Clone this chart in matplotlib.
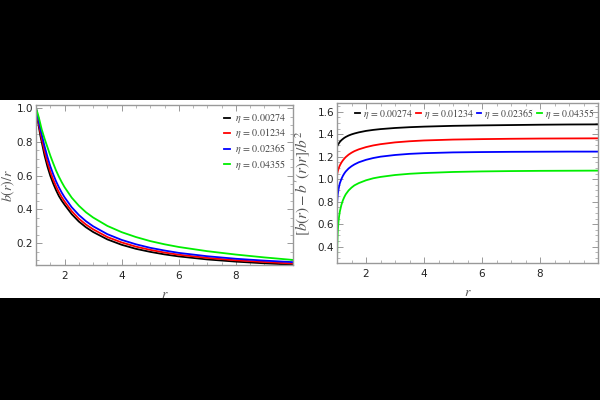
import matplotlib
matplotlib.use("Agg")
import matplotlib.pyplot as plt
from matplotlib.patches import Rectangle
from matplotlib.ticker import MultipleLocator, FixedLocator

plt.rcParams['mathtext.fontset'] = 'stix'
plt.rcParams['font.family'] = ['DejaVu Sans']

# ---------------- data ----------------
etas = ["0.00274", "0.01234", "0.02365", "0.04355"]
colors = ["black", "red", "blue", "#00ee00"]
x_ticks = [2, 4, 6, 8]

r_left = [1.0, 1.05, 1.1, 1.15, 1.2, 1.3, 1.4, 1.5, 1.6, 1.7, 1.8, 1.9, 2.0, 2.25, 2.5, 2.75,
          3.0, 3.5, 4.0, 4.5, 5.0, 5.5, 6.0, 7.0, 8.0, 9.0, 10.0]
b_over_r_1 = [1.0, 0.94, 0.89, 0.84, 0.80, 0.72, 0.655, 0.60, 0.555, 0.515, 0.48, 0.452, 0.428,
              0.372, 0.328, 0.294, 0.266, 0.222, 0.19, 0.166, 0.148, 0.133, 0.121, 0.103, 0.09, 0.08, 0.072]
b_over_r_2 = [1.0, 0.95, 0.905, 0.86, 0.82, 0.745, 0.68, 0.625, 0.578, 0.538, 0.503, 0.473, 0.447,
              0.39, 0.345, 0.31, 0.282, 0.236, 0.204, 0.179, 0.16, 0.144, 0.131, 0.112, 0.098, 0.088, 0.079]
b_over_r_3 = [1.0, 0.96, 0.92, 0.88, 0.845, 0.775, 0.712, 0.657, 0.61, 0.568, 0.532, 0.50, 0.472,
              0.413, 0.367, 0.33, 0.30, 0.253, 0.219, 0.193, 0.172, 0.156, 0.142, 0.122, 0.107, 0.096, 0.087]
b_over_r_4 = [1.0, 0.975, 0.945, 0.91, 0.875, 0.82, 0.77, 0.72, 0.675, 0.632, 0.595, 0.562, 0.532,
              0.47, 0.422, 0.383, 0.352, 0.302, 0.265, 0.236, 0.212, 0.193, 0.177, 0.152, 0.132, 0.115, 0.100]

r_right = [1.0, 1.01, 1.02, 1.03, 1.05, 1.075, 1.1, 1.15, 1.2, 1.25, 1.3, 1.4, 1.5, 1.6, 1.75,
           2.0, 2.25, 2.5, 3.0, 3.5, 4.0, 5.0, 6.0, 7.0, 8.0, 9.0, 10.0]
flare_1 = [1.289, 1.294, 1.299, 1.304, 1.313, 1.323, 1.332, 1.346, 1.357, 1.367, 1.375, 1.388, 1.398,
           1.406, 1.416, 1.429, 1.438, 1.445, 1.455, 1.462, 1.467, 1.474, 1.478, 1.481, 1.484, 1.486, 1.487]
flare_2 = [1.037, 1.05, 1.062, 1.073, 1.09, 1.108, 1.123, 1.147, 1.166, 1.182, 1.196, 1.218, 1.235,
           1.249, 1.265, 1.285, 1.30, 1.311, 1.327, 1.337, 1.344, 1.352, 1.356, 1.359, 1.361, 1.362, 1.363]
flare_3 = [0.78, 0.815, 0.845, 0.87, 0.905, 0.94, 0.965, 1.0, 1.028, 1.05, 1.068, 1.095, 1.115,
           1.131, 1.15, 1.172, 1.188, 1.20, 1.215, 1.225, 1.231, 1.238, 1.241, 1.243, 1.244, 1.245, 1.245]
flare_4 = [0.25, 0.42, 0.50, 0.55, 0.62, 0.675, 0.715, 0.77, 0.81, 0.84, 0.865, 0.90, 0.925,
           0.945, 0.965, 0.99, 1.008, 1.02, 1.037, 1.048, 1.055, 1.064, 1.069, 1.072, 1.074, 1.075, 1.076]

left_series = [b_over_r_1, b_over_r_2, b_over_r_3, b_over_r_4]
right_series = [flare_1, flare_2, flare_3, flare_4]

# ---------------- figure ----------------
W, H = 600, 400
fig = plt.figure(figsize=(6, 4), dpi=100, facecolor="black")
bg = Rectangle((0, 1 - 298 / H), 1, 198 / H, transform=fig.transFigure,
               facecolor="white", edgecolor="none", zorder=-10)
fig.patches.append(bg)

def px_axes(x0, y0, x1, y1):
    return fig.add_axes([x0 / W, 1 - y1 / H, (x1 - x0) / W, (y1 - y0) / H])

ax1 = px_axes(36, 105, 293, 265)
ax2 = px_axes(337, 103, 598, 263)

def style(ax):
    ax.set_facecolor("white")
    for s in ax.spines.values():
        s.set_color("#999999")
        s.set_linewidth(1.0)
    ax.tick_params(which="both", direction="in", top=True, right=True,
                   colors="#999999", labelcolor="#222222", labelsize=7.5)
    ax.tick_params(which="major", length=4, width=0.7)
    ax.tick_params(which="minor", length=2, width=0.5)
    ax.tick_params(axis="y", pad=2)
    ax.tick_params(axis="x", pad=4)
    ax.xaxis.set_major_locator(FixedLocator(x_ticks))
    ax.xaxis.set_minor_locator(MultipleLocator(0.5))
    ax.yaxis.set_major_locator(MultipleLocator(0.2))
    ax.yaxis.set_minor_locator(MultipleLocator(0.05))

for ax in (ax1, ax2):
    style(ax)

for ys, c, e in zip(left_series, colors, etas):
    ax1.plot(r_left, ys, color=c, lw=1.3, label=r"$\eta\,=\,%s$" % e)
ax1.set_xlim(1, 10)
ax1.set_ylim(0.07, 1.02)
ax1.set_xlabel(r"$r$", fontsize=10, color="#555555", labelpad=5)
ax1.set_ylabel(r"$b(r)/r$", fontsize=10, color="#555555")
ax1.yaxis.set_label_coords((17 - 36) / 257, 0.5)
ax1.legend(loc="upper right", frameon=False, fontsize=7.2, handlelength=0.6,
           handletextpad=0.5, labelspacing=0.15, borderaxespad=0.3,
           labelcolor="#444444")

for ys, c, e in zip(right_series, colors, etas):
    ax2.plot(r_right, ys, color=c, lw=1.3, label=r"$\eta\,=\,%s$" % e)
ax2.set_xlim(1, 10)
ax2.set_ylim(0.255, 1.677)
ax2.set_xlabel(r"$r$", fontsize=10, color="#555555", labelpad=5)
ax2.set_ylabel(r"$[b(r)-b^{\prime}(r)r]/b^2$", fontsize=11, color="#555555")
ax2.yaxis.set_label_coords((312 - 337) / 261, 0.5)
ax2.legend(loc="upper right", frameon=False, fontsize=7, ncol=4, handlelength=0.5,
           handletextpad=0.3, columnspacing=0.3, borderaxespad=0.2, borderpad=0.2,
           labelcolor="#444444")

fig.savefig("out.png", dpi=100, facecolor="black")
